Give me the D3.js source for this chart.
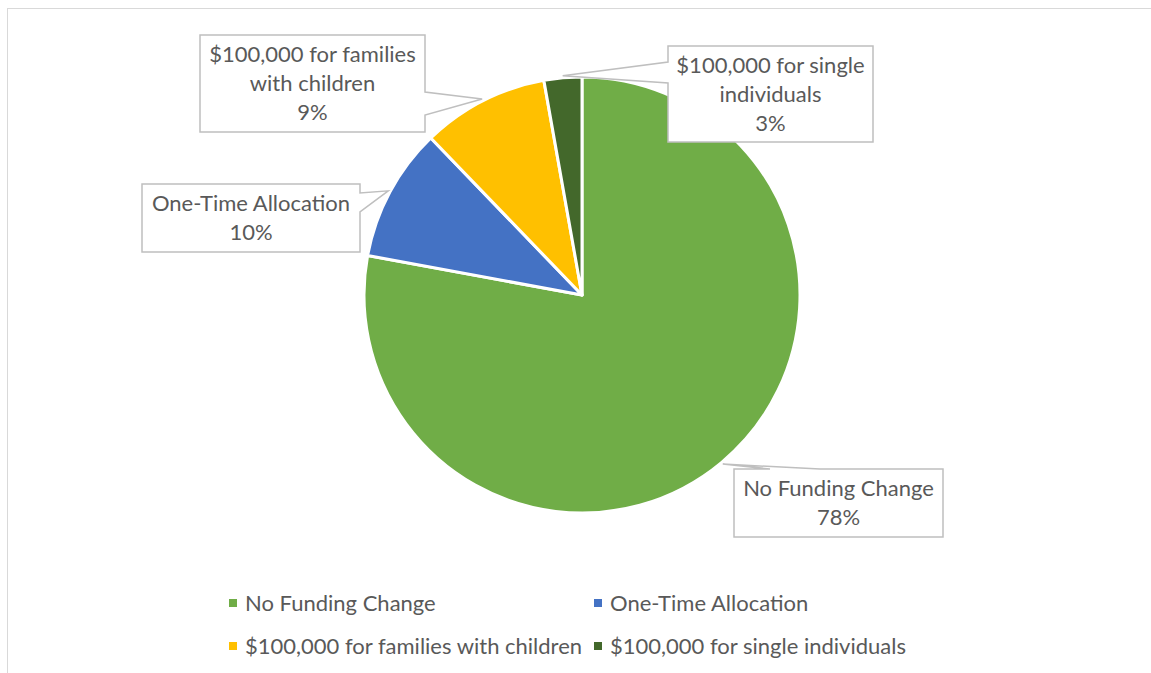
<!DOCTYPE html>
<html>
<head>
<meta charset="utf-8">
<script src="https://cdn.jsdelivr.net/npm/d3@7"></script>
<style>
  body { margin: 0; background: #fff; }
  text { font-family: Lato, "Noto Sans", sans-serif; fill: #595959; }
</style>
</head>
<body>
<svg id="chart" width="1151" height="673"></svg>
<script>
// data
const categories = ['No Funding Change', 'One-Time Allocation', '$100,000 for families with children', '$100,000 for single individuals'];
const shares = [77.9, 9.9, 9.4, 2.8];
const pctLabels = ['78%', '10%', '9%', '3%'];
const labelLines = [['No Funding Change'], ['One-Time Allocation'], ['$100,000 for families', 'with children'], ['$100,000 for single', 'individuals']];
const colors = ['#70AD47', '#4472C4', '#FFC000', '#43682B'];

const width = 1151;
const height = 673;
const cx = 582, cy = 295, radius = 218;
const fontSize = 22;

const svg = d3.select('#chart');

// chart frame
svg.append('rect')
  .attr('x', 7.5).attr('y', 8.5)
  .attr('width', width + 20).attr('height', height + 20)
  .attr('fill', 'none')
  .attr('stroke', '#D9D9D9');

const pie = d3.pie().sort(null).value(d => d);
const arcs = pie(shares);
const arc = d3.arc().innerRadius(0).outerRadius(radius);

const g = svg.append('g').attr('transform', `translate(${cx},${cy})`);

g.selectAll('path')
  .data(arcs)
  .enter()
  .append('path')
  .attr('d', arc)
  .attr('fill', (d, i) => colors[i])
  .attr('stroke', '#fff')
  .attr('stroke-width', 3)
  .attr('stroke-linejoin', 'round');

// callout boxes: box rect + where the wedge pointer leaves the box
const boxes = [
  { x: 734, y: 469, w: 209, h: 68, side: 'top', a: 770, b: 820 },
  { x: 142, y: 184, w: 218, h: 68, side: 'right', a: 193, b: 212 },
  { x: 200, y: 35, w: 225, h: 97, side: 'right', a: 92, b: 115 },
  { x: 668, y: 46, w: 205, h: 96, side: 'left', a: 62, b: 83 }
];

const tip = d => {
  const mid = (d.startAngle + d.endAngle) / 2;
  const r = radius + 2;
  return [cx + r * Math.sin(mid), cy - r * Math.cos(mid)];
};

const callouts = svg.append('g');
arcs.forEach((d, i) => {
  const bx = boxes[i];
  const [tx, ty] = tip(d);
  const x0 = bx.x, y0 = bx.y, x1 = bx.x + bx.w, y1 = bx.y + bx.h;
  let pts;
  if (bx.side === 'top') {
    pts = [[x0, y0], [bx.a, y0], [tx, ty], [bx.b, y0], [x1, y0], [x1, y1], [x0, y1]];
  } else if (bx.side === 'right') {
    pts = [[x0, y0], [x1, y0], [x1, bx.a], [tx, ty], [x1, bx.b], [x1, y1], [x0, y1]];
  } else {
    pts = [[x0, y0], [x1, y0], [x1, y1], [x0, y1], [x0, bx.b], [tx, ty], [x0, bx.a]];
  }
  callouts.append('path')
    .attr('d', d3.line()(pts) + 'Z')
    .attr('fill', '#fff')
    .attr('stroke', '#BFBFBF')
    .attr('stroke-width', 1.5);

  const lines = labelLines[i].concat([pctLabels[i]]);
  const lh = 29;
  const startY = y0 + bx.h / 2 - (lines.length - 1) * lh / 2;
  const t = callouts.append('text')
    .attr('text-anchor', 'middle')
    .attr('font-size', fontSize);
  lines.forEach((s, j) => {
    t.append('tspan')
      .attr('x', x0 + bx.w / 2)
      .attr('y', startY + j * lh)
      .attr('dy', '0.35em')
      .text(s);
  });
});

// legend
const legendX = d3.scaleOrdinal().domain([0, 1]).range([229, 594]);
const legendY = d3.scaleOrdinal().domain([0, 1]).range([603, 646]);
const legend = svg.append('g')
  .selectAll('g')
  .data(categories)
  .enter()
  .append('g')
  .attr('transform', (d, i) => `translate(${legendX(i % 2)},${legendY(Math.floor(i / 2))})`);

legend.append('rect')
  .attr('x', 0).attr('y', -4)
  .attr('width', 8).attr('height', 8)
  .attr('fill', (d, i) => colors[i]);

legend.append('text')
  .attr('x', 16)
  .attr('dy', '0.35em')
  .attr('font-size', fontSize)
  .text(d => d);
</script>
</body>
</html>
